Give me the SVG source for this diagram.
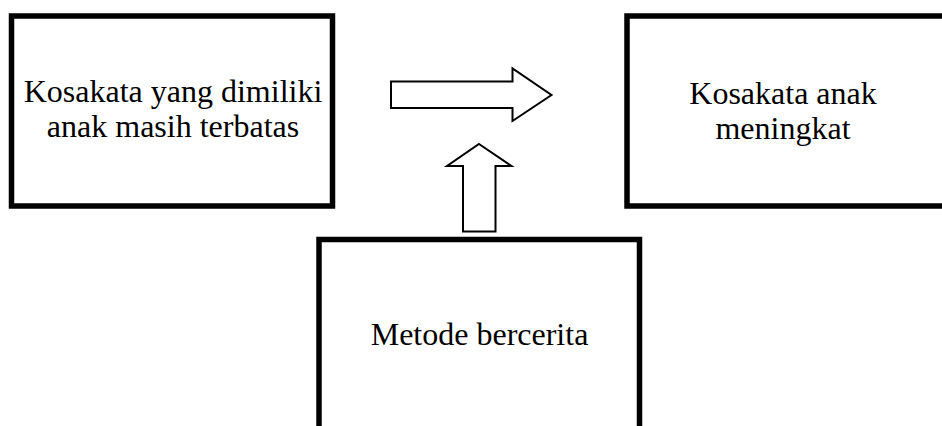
<svg xmlns="http://www.w3.org/2000/svg" width="942" height="426" viewBox="0 0 942 426">
<style>
.box{fill:#fff;stroke:#000;stroke-width:5.5}
.lbl{font-family:"Liberation Serif","Times New Roman",serif;font-size:32px;fill:#000;text-anchor:middle}
.arr{fill:#fff;stroke:#000;stroke-width:2;stroke-linejoin:miter}
</style>
<rect width="942" height="426" fill="#fff"/>
<g id="node-left">
<rect class="box" x="11.5" y="16" width="321" height="190"/>
<text class="lbl" x="173" y="102">Kosakata yang dimiliki</text>
<text class="lbl" x="173" y="137">anak masih terbatas</text>
</g>
<g id="node-right">
<rect class="box" x="627" y="16" width="320" height="190"/>
<text class="lbl" x="783" y="104">Kosakata anak</text>
<text class="lbl" x="783" y="139">meningkat</text>
</g>
<g id="node-bottom">
<rect class="box" x="319" y="239.5" width="320.5" height="200"/>
<text class="lbl" x="479.5" y="345">Metode bercerita</text>
</g>
<g id="connectors">
<polygon class="arr" points="391,81.5 512.5,81.5 512.5,68.5 551.5,95 512.5,121 512.5,108 391,108"/>
<polygon class="arr" points="479,144 511.5,166 495.5,166 495.5,231.5 463,231.5 463,166 447,166"/>
</g>
</svg>
